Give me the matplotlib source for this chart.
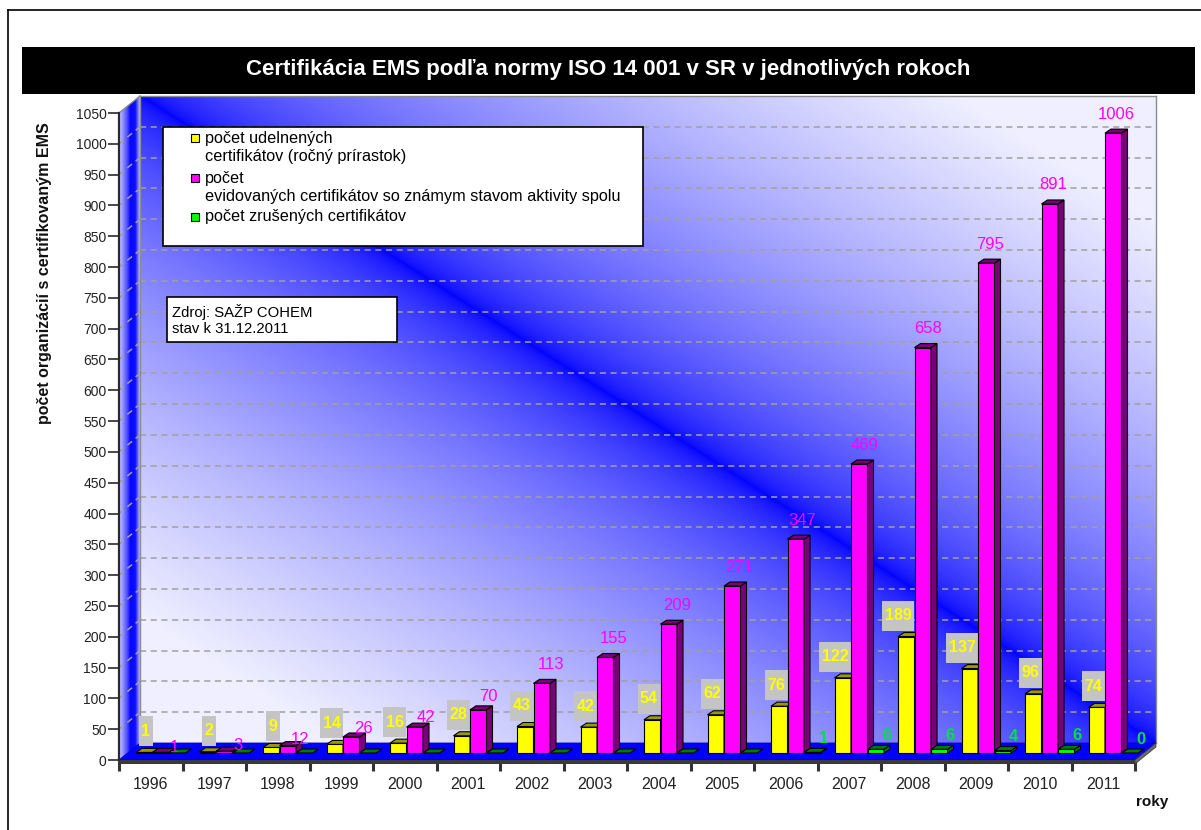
import numpy as np
import matplotlib
matplotlib.use("Agg")
import matplotlib.pyplot as plt
from matplotlib.patches import Polygon, Rectangle
from matplotlib.lines import Line2D
from matplotlib.transforms import offset_copy

plt.rcParams['font.family'] = ['Liberation Sans', 'DejaVu Sans']

# ---------------- data ----------------
years = ["1996", "1997", "1998", "1999", "2000", "2001", "2002", "2003",
         "2004", "2005", "2006", "2007", "2008", "2009", "2010", "2011"]
granted = [1, 2, 9, 14, 16, 28, 43, 42, 54, 62, 76, 122, 189, 137, 96, 74]
registered = [1, 3, 12, 26, 42, 70, 113, 155, 209, 271, 347, 469, 658, 795, 891, 1006]
cancelled = [0, 0, 0, 0, 0, 0, 0, 0, 0, 0, 1, 6, 6, 4, 6, 0]
cancelled_first_labelled = "2006"

title = "Certifikácia EMS podľa normy ISO 14 001 v SR v jednotlivých rokoch"
ylabel = "počet organizácií s certifikovaným EMS"
xlabel = "roky"
legend_lines = ["počet udelnených", "certifikátov (ročný prírastok)",
                "počet", "evidovaných certifikátov so známym stavom aktivity spolu",
                "počet zrušených certifikátov"]
source_lines = ["Zdroj: SAŽP COHEM", "stav k 31.12.2011"]
yticks = list(range(0, 1051, 50))
ymax = 1050

C_Y, C_Y_DARK = "#ffff00", "#9a9a00"
C_M, C_M_DARK = "#ff00ff", "#7a007a"
C_G, C_G_DARK = "#00ff00", "#007a00"
C_GLABEL = "#00e040"

# ---------------- figure ----------------
W, H = 1201, 830
fig = plt.figure(figsize=(W / 100, H / 100), dpi=100)
fig.patch.set_facecolor("white")


def fx(px):
    return px / W


def fy(py):
    return 1 - py / H


AX_L, AX_R, AX_T, AX_B = 119, 1135, 113, 760
DEPTH = (21, 17)     # back wall offset in px
MID = (10, 7)        # bar row offset in px
BAR_D = (6, 4)       # bar depth in px

ax = fig.add_axes([fx(AX_L), fy(AX_B), (AX_R - AX_L) / W, (AX_B - AX_T) / H])
ax.set_zorder(1)
ax.patch.set_visible(False)
n = len(years)
ax.set_xlim(0, n)
ax.set_ylim(0, ymax)

sx = n / (AX_R - AX_L)
sy = ymax / (AX_B - AX_T)
D, E = DEPTH[0] * sx, DEPTH[1] * sy

T_mid = offset_copy(ax.transData, fig=fig, x=MID[0], y=MID[1], units="dots")
T_back = offset_copy(ax.transData, fig=fig, x=DEPTH[0], y=DEPTH[1], units="dots")

# ---------------- back wall gradient ----------------
bg = fig.add_axes([fx(AX_L + DEPTH[0]), fy(AX_B - DEPTH[1]), (AX_R - AX_L) / W, (AX_B - AX_T) / H])
bg.set_zorder(0)
bg.axis("off")
gw, gh = AX_R - AX_L, AX_B - AX_T
uu, vv = np.meshgrid(np.arange(gw), np.arange(gh))
dist = np.abs(uu * gh - vv * gw) / np.hypot(gw, gh)
f = np.clip(dist / 440.0, 0, 1) ** 0.55
light = np.array([0.94, 0.94, 1.0])
blue = np.array([0.0, 0.0, 1.0])
img = blue[None, None, :] * (1 - f[..., None]) + light[None, None, :] * f[..., None]
bg.imshow(img, extent=[0, gw, gh, 0], aspect="auto", interpolation="bilinear")
bg.set_xlim(0, gw)
bg.set_ylim(gh, 0)

# ---------------- left wall ----------------
stops_t = [0.0, 0.4, 0.55, 0.8, 1.0]
stops_c = [np.array([0.82, 0.82, 1.0]), np.array([0.3, 0.3, 1.0]), np.array([0, 0, 1.0]),
           np.array([0.05, 0.05, 1.0]), np.array([0.7, 0.7, 1.0])]
NS = 40
for k in range(NS):
    t0, t1 = k / NS, (k + 1) / NS
    tm = (t0 + t1) / 2
    col = np.array([np.interp(tm, stops_t, [c[j] for c in stops_c]) for j in range(3)])
    ax.add_patch(Polygon([(t0 * D, t0 * E), (t1 * D, t1 * E), (t1 * D, ymax + t1 * E),
                          (t0 * D, ymax + t0 * E)], closed=True, facecolor=col,
                         edgecolor=col, lw=0.3, clip_on=False, zorder=1))

# gridlines
grid_kw = dict(color="#a0a0a0", lw=1.1, linestyle=(0, (4, 3)), clip_on=False, zorder=1.5)
for v in yticks[1:-1]:
    ax.plot([0, n], [v, v], transform=T_back, **grid_kw)
    ax.plot([0, D], [v, v + E], transform=ax.transData, **grid_kw)

edge_kw = dict(color="#8c8c8c", lw=1.0, clip_on=False, zorder=1.6)
ax.plot([n, n], [0, ymax], transform=T_back, **edge_kw)
ax.plot([0, 0], [0, ymax], transform=T_back, **edge_kw)
ax.plot([0, n], [ymax, ymax], transform=T_back, **edge_kw)
ax.plot([0, D], [ymax, ymax + E], transform=ax.transData, **edge_kw)

# floor
ax.add_patch(Polygon([(0, 0), (n, 0), (n + D, E), (D, E)], closed=True,
                     facecolor="#0000ff", edgecolor="#0000c0", lw=0.6, clip_on=False, zorder=2))
slab = 4 * sy
ax.add_patch(Polygon([(0, -slab), (n, -slab), (n, 0), (0, 0)], closed=True,
                     facecolor="#3a3a3a", edgecolor="none", clip_on=False, zorder=2))
ax.add_patch(Polygon([(n, -slab), (n + D, E - slab), (n + D, E), (n, 0)], closed=True,
                     facecolor="#6a6a6a", edgecolor="#3a3a3a", lw=0.5, clip_on=False, zorder=2))

# ---------------- bars ----------------
bw = 16.5 * sx
bdx, bdy = BAR_D[0] * sx, BAR_D[1] * sy


def bar3d(x0, v, front, dark, z):
    kw = dict(transform=T_mid, clip_on=False, edgecolor="black", lw=0.8)
    if v > 0:
        ax.add_patch(Rectangle((x0, 0), bw, v, facecolor=front, zorder=z, **kw))
    ax.add_patch(Polygon([(x0 + bw, 0), (x0 + bw + bdx, bdy), (x0 + bw + bdx, v + bdy),
                          (x0 + bw, v)], closed=True, facecolor=dark, zorder=z, **kw))
    ax.add_patch(Polygon([(x0, v), (x0 + bw, v), (x0 + bw + bdx, v + bdy), (x0 + bdx, v + bdy)],
                         closed=True, facecolor=dark, zorder=z, **kw))


first_g = years.index(cancelled_first_labelled)
for i in range(n):
    c = i + 0.5
    z = 3 + i * 0.1
    xy = c - 1.5 * bw
    xm = c - 0.5 * bw
    xg = c + 0.5 * bw
    # yellow
    bar3d(xy, granted[i], C_Y, C_Y_DARK, z)
    s = str(granted[i])
    bwpx = 9 * len(s) + 5
    bx_r = xy + bw
    ax.add_patch(Rectangle((bx_r - bwpx * sx, granted[i] + 6 * sy), bwpx * sx, 30 * sy,
                           transform=T_mid, facecolor="#c4c4c4", edgecolor="none",
                           clip_on=False, zorder=z + 0.01))
    ax.text(bx_r - bwpx * sx / 2, granted[i] + 21 * sy, s, transform=T_mid, ha="center",
            va="center", color=C_Y, fontsize=11.5, fontweight="bold", clip_on=False,
            zorder=z + 0.02)
    # magenta
    bar3d(xm, registered[i], C_M, C_M_DARK, z + 0.03)
    # green
    bar3d(xg, cancelled[i], C_G, C_G_DARK, z + 0.04)
    gap = min(19, 5 + 0.12 * registered[i])
    ax.annotate(str(registered[i]), (xm + bw / 2, registered[i]), xycoords=T_mid,
                xytext=(14 - 0.75 * i, gap), textcoords="offset pixels",
                ha="center", va="center", color=C_M, fontsize=12,
                annotation_clip=False, zorder=z + 0.05)
    if i >= first_g:
        ax.annotate(str(cancelled[i]), (xg + bw / 2, cancelled[i]), xycoords=T_mid,
                    xytext=(11, 14), textcoords="offset pixels",
                    ha="center", va="center", color=C_GLABEL, fontsize=12,
                    fontweight="bold", annotation_clip=False, zorder=z + 0.06)

# ---------------- axes decorations ----------------
for sp in ["top", "right", "bottom"]:
    ax.spines[sp].set_visible(False)
ax.spines["left"].set_color("#2a2a2a")
ax.spines["left"].set_linewidth(1.6)
ax.spines["left"].set_zorder(2.5)
ax.set_yticks(yticks)
ax.tick_params(axis="y", direction="out", length=8, width=1.2, color="#2a2a2a",
               labelsize=10, labelcolor="#222222", pad=1)
ax.set_xticks(np.arange(0, n + 1))
ax.set_xticklabels([])
ax.set_xticks(np.arange(n) + 0.5, minor=True)
ax.set_xticklabels(years, minor=True)
ax.tick_params(axis="x", which="major", direction="out", length=8, width=2.2, color="#333333")
ax.tick_params(axis="x", which="minor", length=0, pad=12, labelsize=11.5, labelcolor="#222222")

# ---------------- figure-level texts ----------------
fig.add_artist(Line2D([fx(8), fx(8)], [fy(10), fy(832)], color="black", lw=1.2))
fig.add_artist(Line2D([fx(8), fx(1203)], [fy(10), fy(10)], color="black", lw=1.2))

fig.add_artist(Rectangle((fx(22), fy(94)), (1195 - 22) / W, (94 - 47) / H,
                         transform=fig.transFigure, facecolor="black", edgecolor="none", zorder=5))
fig.text(fx(608), fy(70), title, color="white", fontsize=16, fontweight="bold",
         ha="center", va="center", zorder=6)

fig.text(fx(45), fy(273), ylabel, rotation=90, fontsize=11.5, fontweight="bold",
         ha="center", va="center", color="#111111")
fig.text(fx(1152), fy(802), xlabel, fontsize=11, fontweight="bold", ha="center",
         va="center", color="#111111")

# legend box
fig.add_artist(Rectangle((fx(163), fy(246)), (643 - 163) / W, (246 - 127) / H,
                         transform=fig.transFigure, facecolor="white", edgecolor="black",
                         lw=1.2, zorder=5))
line_y = [138, 157, 178, 196, 217]
for ly, txt in zip(line_y, legend_lines):
    fig.text(fx(205), fy(ly), txt, fontsize=11.7, ha="left", va="center", color="black", zorder=6)
for ly, col in zip([138, 178, 217], [C_Y, C_M, C_G]):
    fig.add_artist(Rectangle((fx(191), fy(ly + 4)), 8 / W, 8 / H, transform=fig.transFigure,
                             facecolor=col, edgecolor="black", lw=0.8, zorder=6))

# source box
fig.add_artist(Rectangle((fx(167), fy(342)), (397 - 167) / W, (342 - 297) / H,
                         transform=fig.transFigure, facecolor="white", edgecolor="black",
                         lw=1.2, zorder=5))
for ly, txt in zip([312, 329], source_lines):
    fig.text(fx(172), fy(ly), txt, fontsize=10.7, ha="left", va="center", color="black", zorder=6)

fig.savefig("out.png", dpi=100)
